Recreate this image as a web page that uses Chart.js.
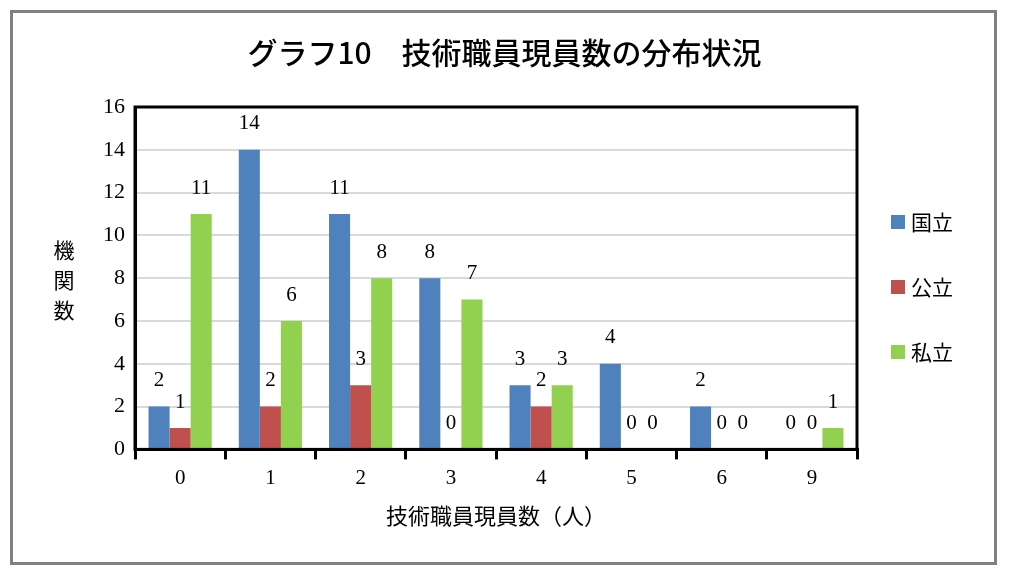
<!DOCTYPE html>
<html>
<head>
<meta charset="utf-8">
<script src="https://cdn.jsdelivr.net/npm/chart.js@4"></script>
<style>
  html, body { margin: 0; padding: 0; background: #fff; }
  #wrap { width: 1009px; height: 574px; }
</style>
</head>
<body>
<div id="wrap"><canvas id="chart" width="1009" height="574"></canvas></div>
<script>
// data
const categories = ['0', '1', '2', '3', '4', '5', '6', '9'];
const kokuritsu = [2, 14, 11, 8, 3, 4, 2, 0];
const kouritsu = [1, 2, 3, 0, 2, 0, 0, 0];
const shiritsu = [11, 6, 8, 7, 3, 0, 0, 1];
const seriesNames = ['国立', '公立', '私立'];
const seriesColors = ['#4F81BD', '#C0504D', '#92D050'];

const numFont = '"Liberation Serif", "Noto Sans CJK JP", serif';
const jpFont = '"Noto Sans CJK JP", sans-serif';

// white background, grey outer frame, plot border, value labels, legend, vertical y title
const decor = {
    id: 'decor',
    beforeDraw(chart) {
        const ctx = chart.ctx;
        ctx.save();
        ctx.fillStyle = '#fff';
        ctx.fillRect(0, 0, chart.width, chart.height);
        ctx.strokeStyle = '#808080';
        ctx.lineWidth = 3;
        ctx.strokeRect(11.5, 11.5, 984, 552);
        ctx.restore();
    },
    afterDatasetsDraw(chart) {
        const ctx = chart.ctx;
        ctx.save();
        ctx.font = '21px ' + numFont;
        ctx.fillStyle = '#000';
        ctx.textAlign = 'center';
        ctx.textBaseline = 'middle';
        chart.data.datasets.forEach((ds, i) => {
            chart.getDatasetMeta(i).data.forEach((bar, j) => {
                ctx.fillText(String(ds.data[j]), bar.x, bar.y - 26);
            });
        });
        ctx.restore();
    },
    afterDraw(chart) {
        const ctx = chart.ctx;
        const a = chart.chartArea;
        ctx.save();
        ctx.strokeStyle = '#000';
        ctx.lineWidth = 3;
        ctx.strokeRect(a.left, a.top, a.right - a.left, a.bottom - a.top);

        // legend
        ctx.font = '21px ' + jpFont;
        ctx.textBaseline = 'middle';
        ctx.textAlign = 'left';
        chart.data.datasets.forEach((ds, i) => {
            const y = 222 + i * 65;
            ctx.fillStyle = ds.backgroundColor;
            ctx.fillRect(891, y - 7, 14, 14);
            ctx.fillStyle = '#000';
            ctx.fillText(ds.label, 911, y);
        });

        // y axis title, one character per line
        ctx.textAlign = 'center';
        ['機', '関', '数'].forEach((ch, i) => {
            ctx.fillText(ch, 64, 250 + i * 30);
        });
        ctx.restore();
    }
};

const ctx = document.getElementById('chart').getContext('2d');
const chart = new Chart(ctx, {
    type: 'bar',
    data: {
        labels: categories,
        datasets: [
            { label: seriesNames[0], data: kokuritsu, backgroundColor: seriesColors[0] },
            { label: seriesNames[1], data: kouritsu, backgroundColor: seriesColors[1] },
            { label: seriesNames[2], data: shiritsu, backgroundColor: seriesColors[2] }
        ]
    },
    options: {
        responsive: false,
        animation: false,
        devicePixelRatio: 1,
        datasets: {
            bar: { barPercentage: 1, categoryPercentage: 0.7 }
        },
        layout: {
            padding: { left: 0, right: 0, top: 0, bottom: 45 }
        },
        plugins: {
            legend: { display: false },
            tooltip: { enabled: false },
            title: {
                display: true,
                text: 'グラフ10　技術職員現員数の分布状況',
                color: '#000',
                font: { family: jpFont, size: 30, weight: '500' },
                padding: { top: 35, bottom: 36 }
            }
        },
        scales: {
            x: {
                grid: {
                    display: true,
                    drawOnChartArea: false,
                    drawTicks: true,
                    tickLength: 10,
                    color: '#000',
                    lineWidth: 3
                },
                border: { display: true, color: '#000', width: 3 },
                ticks: {
                    color: '#000',
                    padding: 6,
                    font: { family: numFont, size: 21 }
                },
                title: {
                    display: true,
                    text: '技術職員現員数（人）',
                    color: '#000',
                    font: { family: jpFont, size: 22 },
                    padding: { top: 6, bottom: 0 }
                }
            },
            y: {
                min: 0,
                max: 16,
                ticks: {
                    stepSize: 2,
                    color: '#000',
                    padding: 10,
                    font: { family: numFont, size: 22 }
                },
                grid: {
                    color: '#d9d9d9',
                    lineWidth: 2,
                    drawTicks: false
                },
                border: { display: true, color: '#000', width: 3 },
                afterFit(scale) {
                    scale.width = 135;
                }
            },
            // empty axis on the right that reserves room for the legend
            yRight: {
                position: 'right',
                display: true,
                ticks: { display: false },
                grid: { display: false, drawTicks: false },
                border: { display: false },
                afterFit(scale) {
                    scale.width = 152;
                }
            }
        }
    },
    plugins: [decor]
});
</script>
</body>
</html>
